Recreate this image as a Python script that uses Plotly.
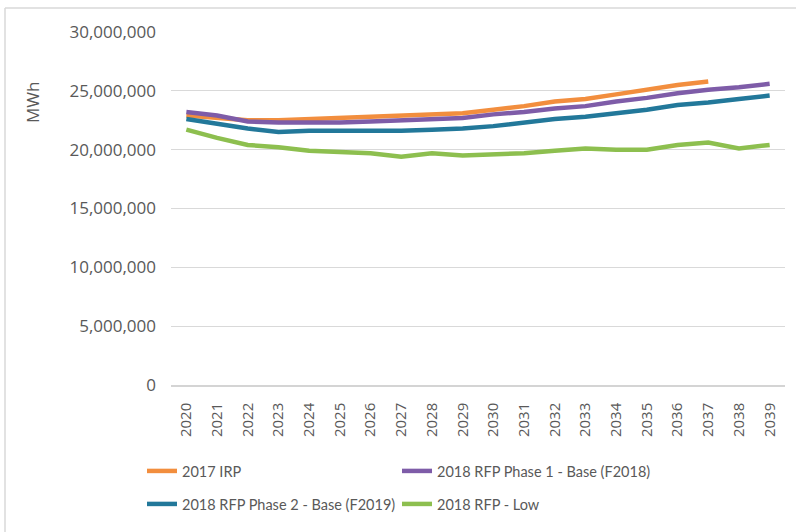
import plotly.graph_objects as go

# Annual energy forecasts, MWh
years = [str(y) for y in range(2020, 2040)]

irp_2017 = [22.9, 22.7, 22.5, 22.5, 22.6, 22.7, 22.8, 22.9, 23.0, 23.1,
            23.4, 23.7, 24.1, 24.3, 24.7, 25.1, 25.5, 25.8]
rfp_phase1_base = [23.2, 22.9, 22.4, 22.3, 22.3, 22.3, 22.4, 22.5, 22.6, 22.7,
                   23.0, 23.2, 23.5, 23.7, 24.1, 24.4, 24.8, 25.1, 25.3, 25.6]
rfp_phase2_base = [22.6, 22.2, 21.8, 21.5, 21.6, 21.6, 21.6, 21.6, 21.7, 21.8,
                   22.0, 22.3, 22.6, 22.8, 23.1, 23.4, 23.8, 24.0, 24.3, 24.6]
rfp_low = [21.7, 21.0, 20.4, 20.2, 19.9, 19.8, 19.7, 19.4, 19.7, 19.5,
           19.6, 19.7, 19.9, 20.1, 20.0, 20.0, 20.4, 20.6, 20.1, 20.4]

series_names = ["2017 IRP", "2018 RFP Phase 1 - Base (F2018)",
                "2018 RFP Phase 2 - Base (F2019)", "2018 RFP - Low"]
series_values = [irp_2017, rfp_phase1_base, rfp_phase2_base, rfp_low]
series_colors = ["#F28E3E", "#7E5CA8", "#22789A", "#8DBF4F"]

FONT = "Open Sans"
LEGEND_FONT = "Lato"
GREY = "#595959"
W, H = 796, 532

# one legend box per entry, laid out as a 2 x 2 grid below the axis
legend_ids = ["legend", "legend2", "legend3", "legend4"]
legend_pos = [(142, 471), (397, 471), (142, 504), (397, 504)]

fig = go.Figure()
for name, vals, color, lg in zip(series_names, series_values, series_colors, legend_ids):
    fig.add_trace(go.Scatter(
        x=years[:len(vals)],
        y=[v * 1_000_000 for v in vals],
        mode="lines",
        name=name,
        legend=lg,
        showlegend=True,
        line=dict(color=color, width=4.5),
        hoverinfo="x+y+name",
    ))

legend_layout = {}
for lg, (px, py) in zip(legend_ids, legend_pos):
    legend_layout[lg] = dict(
        orientation="h",
        xref="container", yref="container",
        x=px / W, y=(H - py) / H,
        xanchor="left", yanchor="middle",
        font=dict(family=LEGEND_FONT, size=14.5, color=GREY),
        bgcolor="rgba(0,0,0,0)",
        itemclick=False, itemdoubleclick=False,
    )

fig.update_layout(
    width=W, height=H,
    showlegend=True,
    margin=dict(l=171, r=11, t=32, b=147),
    paper_bgcolor="white", plot_bgcolor="white",
    font=dict(family=FONT, color=GREY),
    **legend_layout,
    xaxis=dict(
        type="category",
        range=[-0.5, len(years) - 0.5],
        showgrid=False,
        showline=True, linecolor="#D4D4D4", linewidth=1.5,
        ticks="",
        tickangle=-90,
        tickfont=dict(family=FONT, size=15, color=GREY),
        ticklabelstandoff=10,
        fixedrange=True,
    ),
    yaxis=dict(
        range=[0, 30_000_000],
        dtick=5_000_000,
        tickformat=",d",
        showgrid=True, gridcolor="#D9D9D9", gridwidth=1,
        zeroline=False,
        showline=False,
        ticks="",
        tickfont=dict(family=FONT, size=17, color=GREY),
        ticklabelstandoff=14,
        fixedrange=True,
    ),
    annotations=[dict(
        text="MWh", textangle=-90,
        xref="paper", yref="paper",
        x=(32 - 171) / 614, y=(385 - 103) / 353,
        xanchor="center", yanchor="middle",
        showarrow=False,
        font=dict(family=FONT, size=17, color=GREY),
    )],
    shapes=[
        # chart frame: left and top edges
        dict(type="line", xref="paper", yref="paper",
             x0=(5 - 171) / 614, x1=(5 - 171) / 614,
             y0=(385 - 8) / 353, y1=(385 - 540) / 353,
             line=dict(color="#D9D9D9", width=1.5)),
        dict(type="line", xref="paper", yref="paper",
             x0=(5 - 171) / 614, x1=(800 - 171) / 614,
             y0=(385 - 8) / 353, y1=(385 - 8) / 353,
             line=dict(color="#D9D9D9", width=1.5)),
    ],
)

fig.write_html("out.html")
